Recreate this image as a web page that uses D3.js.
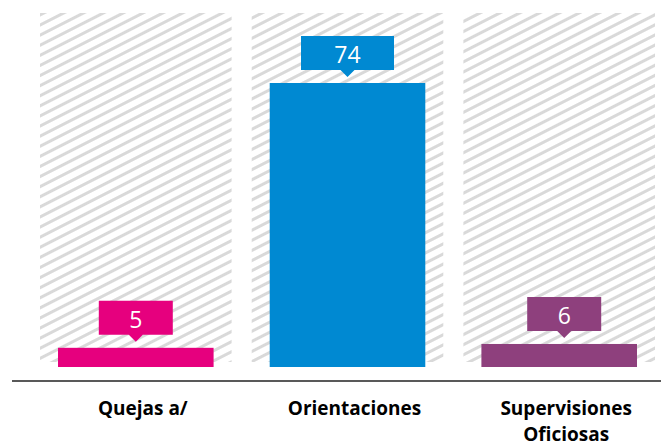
<!DOCTYPE html>
<html>
<head>
<meta charset="utf-8">
<script src="https://cdn.jsdelivr.net/npm/d3@7"></script>
<style>
  body { margin: 0; background: #fff; }
  svg { display: block; }
</style>
</head>
<body>
<div id="chart"></div>
<script>
var categories = ["Quejas a/", "Orientaciones", "Supervisiones Oficiosas"];
var labelLines = [["Quejas a/"], ["Orientaciones"], ["Supervisiones", "Oficiosas"]];
var values = [5, 74, 6];
var colors = ["#E6007E", "#0089D2", "#8E407D"];

var w = 661, h = 447;
var baseY = 367, axisY = 381;

var svg = d3.select("#chart").append("svg")
  .attr("width", w)
  .attr("height", h);

// hatch pattern for the background columns
var defs = svg.append("defs");
defs.append("pattern")
  .attr("id", "hatch")
  .attr("patternUnits", "userSpaceOnUse")
  .attr("width", 10)
  .attr("height", 9)
  .attr("patternTransform", "rotate(-27)")
  .append("line")
  .attr("x1", -2).attr("x2", 12)
  .attr("y1", 4.5).attr("y2", 4.5)
  .attr("stroke", "#d9d9d9")
  .attr("stroke-width", 3);

var x = d3.scaleBand()
  .domain(categories)
  .range([40, 655])
  .paddingInner(0.095);

var y = d3.scaleLinear()
  .domain([0, 74])
  .range([baseY, 83]);

svg.selectAll("rect.bg")
  .data(categories)
  .enter()
  .append("rect")
  .attr("class", "bg")
  .attr("x", function(d){ return x(d); })
  .attr("y", 13)
  .attr("width", x.bandwidth())
  .attr("height", 362 - 13)
  .attr("fill", "url(#hatch)");

var inset = 18;
svg.selectAll("rect.bar")
  .data(values)
  .enter()
  .append("rect")
  .attr("class", "bar")
  .attr("x", function(d, i){ return x(categories[i]) + inset; })
  .attr("y", function(d){ return y(d); })
  .attr("width", x.bandwidth() - inset * 2)
  .attr("height", function(d){ return baseY - y(d); })
  .attr("fill", function(d, i){ return colors[i]; });

// callout labels
var boxH = 34, tipH = 7, gap = 6;
var labels = svg.selectAll("g.callout")
  .data(values)
  .enter()
  .append("g")
  .attr("class", "callout")
  .attr("transform", function(d, i){
    var cx = x(categories[i]) + x.bandwidth() / 2 + (i === 2 ? 5 : 0);
    return "translate(" + cx + "," + (y(d) - gap - tipH - boxH) + ")";
  });

labels.append("path")
  .attr("d", function(d){
    var bw = String(d).length > 1 ? 93 : 74;
    var hw = bw / 2;
    return "M" + (-hw) + ",0H" + hw + "V" + boxH + "H7L0," + (boxH + tipH) + "L-7," + boxH + "H" + (-hw) + "Z";
  })
  .attr("fill", function(d, i){ return colors[i]; });

labels.append("text")
  .text(function(d){ return d; })
  .attr("x", 0)
  .attr("y", 27)
  .attr("text-anchor", "middle")
  .attr("font-family", "Open Sans, sans-serif")
  .attr("font-size", 23)
  .attr("fill", "#fff");

// baseline
svg.append("line")
  .attr("x1", 12).attr("x2", w)
  .attr("y1", axisY).attr("y2", axisY)
  .attr("stroke", "#595959")
  .attr("stroke-width", 2);

// category axis
var axis = svg.append("g")
  .attr("transform", "translate(7," + axisY + ")")
  .call(d3.axisBottom(x).tickSize(0).tickPadding(0));
axis.select(".domain").remove();
axis.selectAll("text")
  .attr("font-family", "Open Sans, sans-serif")
  .attr("font-weight", "bold")
  .attr("font-size", 19)
  .attr("fill", "#000")
  .each(function(d, i){
    var t = d3.select(this);
    t.text(null).attr("y", null).attr("dy", null);
    labelLines[i].forEach(function(wd, k){
      t.append("tspan")
        .attr("x", 0)
        .attr("y", 34 + k * 26)
        .text(wd);
    });
  });
</script>
</body>
</html>
